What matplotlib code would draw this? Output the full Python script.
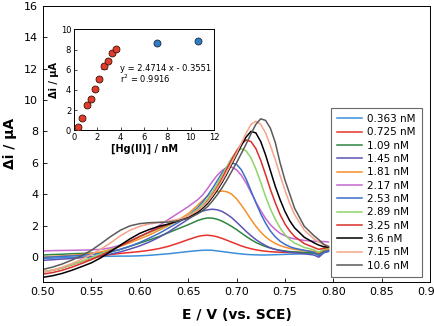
import numpy as np
import matplotlib
matplotlib.use('Agg')
import matplotlib.pyplot as plt

# potential grid (V vs SCE)
E_V = [0.50, 0.51, 0.52, 0.53, 0.54, 0.55, 0.56, 0.57, 0.58, 0.59, 0.60, 0.61, 0.62, 0.63, 0.64,
       0.65, 0.66, 0.665, 0.67, 0.675, 0.68, 0.685, 0.69, 0.695, 0.70, 0.705, 0.71, 0.715, 0.72,
       0.725, 0.73, 0.735, 0.74, 0.745, 0.75, 0.755, 0.76, 0.77, 0.78, 0.785, 0.79, 0.795]

labels = ['0.363 nM', '0.725 nM', '1.09 nM', '1.45 nM', '1.81 nM', '2.17 nM',
          '2.53 nM', '2.89 nM', '3.25 nM', '3.6 nM', '7.15 nM', '10.6 nM']
colors = ['#3b8fd9', '#e8322b', '#2e8540', '#5b54b5', '#f5902a', '#c468d0',
          '#3d6ec9', '#8fd46b', '#d9302a', '#000000', '#f4a58a', '#5a5a5a']

i_0363 = [-0.10, -0.08, -0.05, -0.03, 0.0, 0.02, 0.03, 0.04, 0.05, 0.05, 0.07, 0.10, 0.15, 0.20, 0.27,
          0.34, 0.40, 0.42, 0.43, 0.42, 0.38, 0.34, 0.30, 0.26, 0.22, 0.19, 0.16, 0.14, 0.13,
          0.12, 0.12, 0.13, 0.14, 0.15, 0.16, 0.17, 0.18, 0.20, 0.22, 0.15, 0.30, 0.35]
i_0725 = [-0.95, -0.85, -0.70, -0.50, -0.30, -0.10, 0.05, 0.15, 0.22, 0.28, 0.34, 0.42, 0.53, 0.68, 0.88,
          1.10, 1.30, 1.36, 1.38, 1.35, 1.28, 1.18, 1.06, 0.94, 0.82, 0.70, 0.60, 0.52, 0.45,
          0.40, 0.36, 0.33, 0.31, 0.30, 0.29, 0.28, 0.28, 0.28, 0.30, 0.22, 0.40, 0.45]
i_109 = [0.12, 0.15, 0.17, 0.20, 0.22, 0.24, 0.27, 0.32, 0.48, 0.68, 0.88, 1.08, 1.30, 1.55, 1.80,
         2.05, 2.32, 2.42, 2.48, 2.47, 2.40, 2.28, 2.12, 1.94, 1.74, 1.52, 1.30, 1.10, 0.92,
         0.78, 0.66, 0.56, 0.48, 0.42, 0.38, 0.34, 0.32, 0.28, 0.25, 0.12, 0.35, 0.45]
i_145 = [-0.22, -0.18, -0.14, -0.10, -0.05, 0.0, 0.08, 0.18, 0.32, 0.50, 0.70, 0.95, 1.25, 1.60, 2.00,
         2.40, 2.80, 2.92, 3.00, 3.04, 3.00, 2.90, 2.72, 2.50, 2.22, 1.92, 1.62, 1.35, 1.10,
         0.90, 0.72, 0.58, 0.48, 0.40, 0.34, 0.30, 0.26, 0.20, 0.12, -0.02, 0.25, 0.35]
i_181 = [0.0, 0.03, 0.06, 0.10, 0.15, 0.22, 0.32, 0.48, 0.68, 0.90, 1.15, 1.40, 1.70, 2.00, 2.35,
         2.75, 3.30, 3.60, 3.88, 4.05, 4.15, 4.20, 4.15, 4.00, 3.70, 3.30, 2.85, 2.38, 1.95,
         1.58, 1.28, 1.04, 0.86, 0.72, 0.62, 0.54, 0.48, 0.40, 0.35, 0.28, 0.45, 0.50]
i_217 = [0.38, 0.40, 0.41, 0.42, 0.43, 0.45, 0.48, 0.58, 0.75, 1.00, 1.30, 1.60, 2.00, 2.40, 2.80,
         3.20, 3.65, 3.95, 4.35, 4.80, 5.20, 5.50, 5.70, 5.72, 5.55, 5.20, 4.70, 4.10, 3.50,
         2.95, 2.45, 2.05, 1.75, 1.50, 1.35, 1.22, 1.15, 1.05, 1.00, 0.98, 0.98, 0.95]
i_253 = [-0.05, 0.0, 0.03, 0.06, 0.10, 0.15, 0.22, 0.32, 0.48, 0.68, 0.92, 1.20, 1.50, 1.85, 2.20,
         2.60, 3.15, 3.50, 3.90, 4.35, 4.85, 5.35, 5.75, 5.98, 5.90, 5.55, 4.95, 4.20, 3.45,
         2.75, 2.15, 1.65, 1.28, 1.00, 0.80, 0.65, 0.55, 0.42, 0.30, 0.08, 0.30, 0.40]
i_289 = [-0.95, -0.85, -0.70, -0.50, -0.28, -0.05, 0.20, 0.45, 0.72, 1.00, 1.30, 1.55, 1.80, 2.05, 2.30,
         2.60, 3.05, 3.35, 3.70, 4.15, 4.65, 5.20, 5.75, 6.30, 6.72, 6.90, 6.75, 6.30, 5.60,
         4.75, 3.85, 3.05, 2.40, 1.85, 1.42, 1.10, 0.88, 0.60, 0.45, 0.30, 0.50, 0.55]
i_325 = [-1.10, -1.00, -0.85, -0.65, -0.42, -0.18, 0.10, 0.40, 0.70, 1.00, 1.30, 1.58, 1.85, 2.08, 2.30,
         2.55, 2.95, 3.20, 3.55, 3.95, 4.45, 5.00, 5.60, 6.20, 6.75, 7.20, 7.45, 7.35, 6.90,
         6.15, 5.25, 4.30, 3.45, 2.70, 2.10, 1.65, 1.30, 0.85, 0.60, 0.48, 0.55, 0.60]
i_36 = [-1.30, -1.20, -1.05, -0.85, -0.62, -0.38, -0.05, 0.35, 0.75, 1.15, 1.50, 1.75, 1.95, 2.10, 2.30,
        2.50, 2.85, 3.10, 3.40, 3.80, 4.25, 4.75, 5.30, 5.90, 6.50, 7.10, 7.65, 8.00, 7.90,
        7.35, 6.50, 5.50, 4.50, 3.65, 2.90, 2.30, 1.85, 1.25, 0.90, 0.75, 0.65, 0.62]
i_715 = [-1.00, -0.85, -0.65, -0.42, -0.15, 0.15, 0.50, 0.90, 1.35, 1.70, 1.95, 2.10, 2.20, 2.28, 2.40,
         2.60, 2.95, 3.20, 3.50, 3.90, 4.35, 4.85, 5.40, 6.00, 6.60, 7.25, 7.90, 8.45, 8.65,
         8.45, 7.90, 7.10, 6.20, 5.20, 4.25, 3.40, 2.70, 1.70, 1.15, 0.95, 0.80, 0.70]
i_106 = [-0.80, -0.65, -0.45, -0.20, 0.08, 0.42, 0.85, 1.30, 1.70, 1.98, 2.12, 2.18, 2.20, 2.22, 2.30,
         2.45, 2.75, 2.95, 3.20, 3.55, 3.95, 4.40, 4.90, 5.45, 6.00, 6.60, 7.20, 7.85, 8.45,
         8.80, 8.70, 8.20, 7.30, 6.00, 4.90, 4.00, 3.10, 1.95, 1.35, 1.10, 0.80, 0.65]

currents = [i_0363, i_0725, i_109, i_145, i_181, i_217, i_253, i_289, i_325, i_36, i_715, i_106]

# calibration inset
conc_lin = [0.363, 0.725, 1.09, 1.45, 1.81, 2.17, 2.53, 2.89, 3.25, 3.6]
di_lin = [0.35, 1.25, 2.55, 3.1, 4.05, 5.1, 6.35, 6.9, 7.65, 8.1]
err_lin = [0.15, 0.2, 0.2, 0.2, 0.2, 0.2, 0.25, 0.2, 0.2, 0.2]
conc_sat = [7.15, 10.6]
di_sat = [8.6, 8.8]

fig = plt.figure(figsize=(4.34, 3.26), dpi=100)
ax = fig.add_axes([0.099, 0.135, 0.892, 0.847])

for E_i, c, lab in zip(currents, colors, labels):
    ax.plot(E_V, E_i, color=c, lw=1.1, label=lab)

ax.set_xlim(0.50, 0.90)
ax.set_ylim(-1.6, 16)
ax.set_xticks(np.arange(0.50, 0.901, 0.05))
ax.set_xticklabels(['%.2f' % v for v in np.arange(0.50, 0.901, 0.05)])
ax.set_yticks(np.arange(0, 17, 2))
ax.tick_params(direction='in', labelsize=8, length=3, width=0.6)
for s in ax.spines.values():
    s.set_linewidth(0.7)
ax.set_xlabel('E / V (vs. SCE)', fontsize=10, fontweight='bold', labelpad=8)
ax.set_ylabel('Δi / μA', fontsize=10, fontweight='bold', labelpad=5)

leg = ax.legend(loc='lower right', bbox_to_anchor=(0.992, 0.0), fontsize=7.5, frameon=True,
                fancybox=False, edgecolor='#444444', handlelength=2.4, handletextpad=0.5,
                labelspacing=0.32, borderpad=0.6)
leg.get_frame().set_linewidth(0.8)

# inset
axi = fig.add_axes([0.1705, 0.600, 0.3226, 0.31])
axi.errorbar(conc_lin, di_lin, yerr=err_lin, xerr=0.12, fmt='o', ms=5, mfc='#e23b2a',
             mec='#3a1a10', mew=0.6, ecolor='#3a1a10', elinewidth=0.8, capsize=2, zorder=3)
axi.plot(conc_sat, di_sat, 'o', ms=5, mfc='#2f7dc4', mec='#1a2a40', mew=0.6, zorder=3)
axi.set_xlim(0, 12)
axi.set_ylim(0, 10)
axi.set_xticks(range(0, 13, 2))
axi.set_yticks(range(0, 11, 2))
axi.tick_params(direction='in', labelsize=6, length=2.5, width=0.5, pad=2)
for s in axi.spines.values():
    s.set_linewidth(0.7)
axi.set_xlabel('[Hg(II)] / nM', fontsize=7, fontweight='bold', labelpad=1)
axi.set_ylabel('Δi / μA', fontsize=7, fontweight='bold', labelpad=1)
axi.text(3.95, 6.1, 'y = 2.4714 x - 0.3551', fontsize=6, va='center')
axi.text(3.95, 5.1, 'r$^2$ = 0.9916', fontsize=6, va='center')

fig.savefig('out.png', dpi=100)
